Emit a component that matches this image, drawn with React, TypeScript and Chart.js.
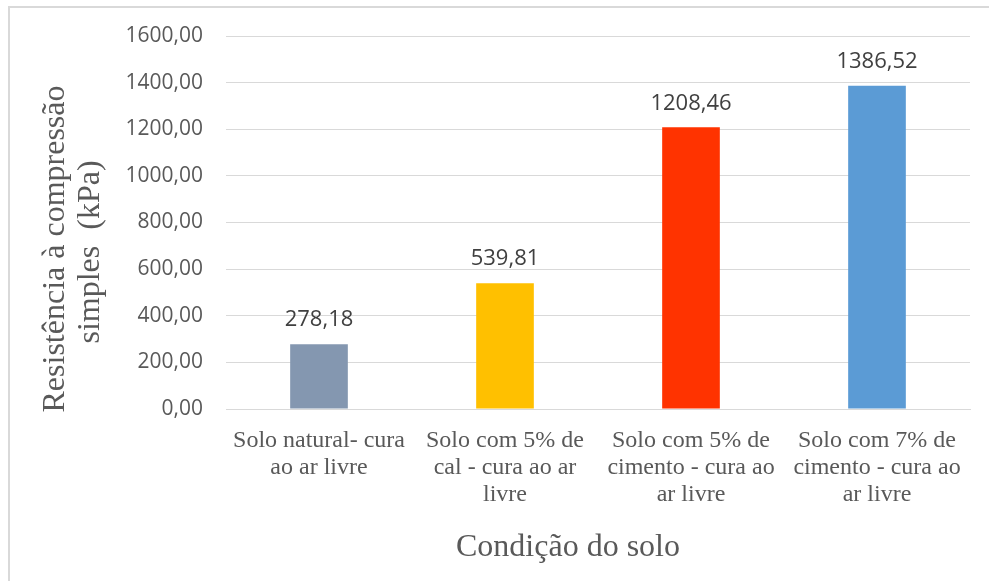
import React, { useEffect, useRef } from "react";
import { Chart, registerables } from "chart.js";

Chart.register(...registerables);

const categories: string[][] = [
  ["Solo natural- cura", "ao ar livre"],
  ["Solo com 5% de", "cal - cura ao ar", "livre"],
  ["Solo com 5% de", "cimento - cura ao", "ar livre"],
  ["Solo com 7% de", "cimento - cura ao", "ar livre"],
];
const values: number[] = [278.18, 539.81, 1208.46, 1386.52];
const barColors: string[] = ["#8497B0", "#FFC000", "#FF3300", "#5B9BD5"];
const yTitleLines: string[] = ["Resistência à compressão", "simples  (kPa)"];
const xTitle = "Condição do solo";
const yMin = 0;
const yMax = 1600;
const yStep = 200;

const fmt = (v: number) => v.toFixed(2).replace(".", ",");

const SANS = "'Open Sans', 'Noto Sans', sans-serif";
const SERIF = "'Liberation Serif', 'DejaVu Serif', serif";
const TEXT = "#595959";

const labelsPlugin = {
  id: "extraText",
  afterDatasetsDraw(chart: any) {
    const ctx = chart.ctx;
    ctx.save();
    const meta = chart.getDatasetMeta(0);
    ctx.fillStyle = "#404040";
    ctx.font = `22px ${SANS}`;
    ctx.textAlign = "center";
    ctx.textBaseline = "middle";
    meta.data.forEach((bar: any, i: number) => {
      ctx.fillText(fmt(values[i]), bar.x, bar.y - 24);
    });
    // y title
    ctx.fillStyle = TEXT;
    ctx.font = `32px ${SERIF}`;
    const pos = [
      [56, 249],
      [91, 252],
    ];
    pos.forEach(([x, cy], i) => {
      ctx.save();
      ctx.translate(x, cy);
      ctx.rotate(-Math.PI / 2);
      ctx.fillText(yTitleLines[i], 0, 0);
      ctx.restore();
    });
    // x title
    ctx.fillText(xTitle, 568, 548);
    ctx.restore();
  },
};

export default function App() {
  const ref = useRef<HTMLCanvasElement>(null);
  useEffect(() => {
    if (!ref.current) return;
    const chart = new Chart(ref.current, {
      type: "bar",
      data: {
        labels: categories,
        datasets: [
          {
            data: values,
            backgroundColor: barColors,
            borderWidth: 0,
            barPercentage: 0.31,
            categoryPercentage: 1,
          },
        ],
      },
      options: {
        animation: false,
        responsive: false,
        maintainAspectRatio: false,
        layout: { padding: { left: 0, right: 19, top: 36, bottom: 0 } },
        plugins: { legend: { display: false }, tooltip: { enabled: false } },
        scales: {
          x: {
            grid: { display: false, drawTicks: false },
            border: { display: true, color: "#d9d9d9", width: 1 },
            ticks: {
              color: TEXT,
              font: { family: SERIF, size: 24, lineHeight: 1.125 },
              padding: 18,
              maxRotation: 0,
              autoSkip: false,
            },
            afterFit(scale: any) {
              scale.height = 172;
            },
          },
          y: {
            min: yMin,
            max: yMax,
            grid: { color: "#d9d9d9", drawTicks: false, lineWidth: 1 },
            border: { display: false },
            ticks: {
              stepSize: yStep,
              color: TEXT,
              font: { family: SANS, size: 21 },
              padding: 23,
              callback: (v: any) => fmt(Number(v)),
            },
            afterFit(scale: any) {
              scale.width = 226;
            },
          },
        },
      },
      plugins: [labelsPlugin],
    });
    return () => chart.destroy();
  }, []);
  return (
    <div style={{ position: "fixed", left: 0, top: 0, width: 989, height: 581, background: "#fff" }}>
      <div
        style={{
          position: "absolute",
          left: 8,
          top: 6,
          width: 1000,
          height: 600,
          border: "2px solid #d9d9d9",
          boxSizing: "border-box",
        }}
      />
      <canvas ref={ref} width={989} height={581} style={{ position: "absolute", left: 0, top: 0 }} />
    </div>
  );
}
